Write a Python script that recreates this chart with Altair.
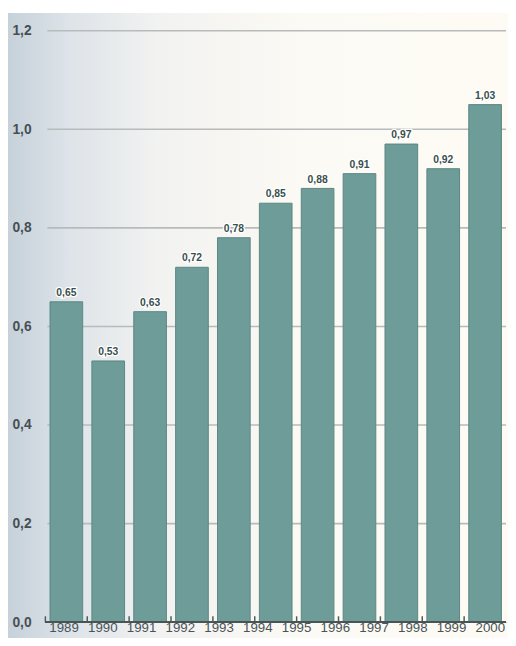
import altair as alt
import pandas as pd

# bars (11 bars) and their printed value labels
bar_ids = ["b01", "b02", "b03", "b04", "b05", "b06", "b07", "b08", "b09", "b10", "b11"]
values = [0.65, 0.53, 0.63, 0.72, 0.78, 0.85, 0.88, 0.91, 0.97, 0.92, 1.05]
value_labels = ["0,65", "0,53", "0,63", "0,72", "0,78", "0,85", "0,88", "0,91", "0,97", "0,92", "1,03"]
# year labels printed under the axis (12 of them)
years = ["1989", "1990", "1991", "1992", "1993", "1994", "1995", "1996", "1997", "1998", "1999", "2000"]
y_ticks = [0.0, 0.2, 0.4, 0.6, 0.8, 1.0, 1.2]
grid_values = [0.2, 0.4, 0.6, 0.8, 1.0, 1.2]

W, H = 468, 601

bars_df = pd.DataFrame({"bar": bar_ids, "value": values, "label": value_labels})
years_df = pd.DataFrame({"year": years})
grid_df = pd.DataFrame({"value": grid_values})

band = alt.Scale(type="band", paddingInner=0.22, paddingOuter=0.11)
x_bar = alt.X("bar:N", sort=bar_ids, scale=band, axis=None)
y_scale = alt.Scale(domain=[0, 1.2], nice=False)
y_axis = alt.Axis(values=y_ticks, title=None, grid=False, domain=False, ticks=False,
                  tickSize=0, zindex=1,
                  labelAlign="left", labelPadding=34, labelBaseline="middle",
                  labelFont="Liberation Sans", labelFontSize=14, labelFontWeight="bold",
                  labelColor="#464f53",
                  labelExpr="replace(format(datum.value, '.1f'), '.', ',')")
y_val = alt.Y("value:Q", scale=y_scale, axis=y_axis)

background = alt.Chart(bars_df).mark_rect(
    clip=False,
    color=alt.LinearGradient(
        gradient="linear", x1=0, x2=1, y1=0, y2=0,
        stops=[alt.GradientStop(offset=0, color="#c6d1da"),
               alt.GradientStop(offset=0.12, color="#dde3e8"),
               alt.GradientStop(offset=0.3, color="#f2f2f1"),
               alt.GradientStop(offset=0.6, color="#fcfaf4"),
               alt.GradientStop(offset=1, color="#fdfbf4")]),
).encode(x=alt.value(-38), x2=alt.value(W + 2), y=alt.value(-18), y2=alt.value(H + 29))

grid = alt.Chart(grid_df).mark_rule(color="#b8bbbb", strokeWidth=1.6).encode(
    y=y_val, x=alt.value(2), x2=alt.value(W))

bars = alt.Chart(bars_df).mark_bar(color="#6e9c98", stroke="#5b8783", strokeWidth=1).encode(
    x=x_bar, y=y_val)

halo = alt.Chart(bars_df).mark_text(dy=-9, font="Liberation Sans", fontSize=10.5, fontWeight="bold",
                                    stroke="#ffffff", strokeWidth=2.5, color="#ffffff").encode(
    x=x_bar, y=y_val, text="label:N")
labels = alt.Chart(bars_df).mark_text(dy=-9, font="Liberation Sans", fontSize=10.5, fontWeight="bold",
                                      color="#3a4f4e").encode(
    x=x_bar, y=y_val, text="label:N")

ticks = alt.Chart(bars_df).mark_rule(color="#4f5a5a", strokeWidth=1.5, xOffset=-4.7).encode(
    x=alt.X("bar:N", sort=bar_ids, scale=band, bandPosition=0, axis=None),
    y=alt.value(H - 6), y2=alt.value(H))

baseline = alt.Chart(bars_df).mark_rule(color="#4a5454", strokeWidth=1.8).encode(
    x=alt.value(0), x2=alt.value(W), y=alt.value(H))

year_text = alt.Chart(years_df).mark_text(font="Liberation Sans", fontSize=13.5, color="#4a5458",
                                          baseline="middle").encode(
    x=alt.X("year:O", sort=years, scale=alt.Scale(type="point", range=[19, 452], padding=0), axis=None),
    y=alt.value(H + 6), text="year:N")

chart = alt.layer(background, grid, bars, ticks, baseline, halo, labels, year_text).resolve_scale(
    x="independent").properties(
    width=W, height=H,
    autosize=alt.AutoSizeParams(type="none"),
    padding={"left": 38, "top": 18, "right": 2, "bottom": 11},
).configure_view(stroke=None).configure(background="#ffffff")

chart.save("out.html", embed_options={"renderer": "svg", "actions": False})
